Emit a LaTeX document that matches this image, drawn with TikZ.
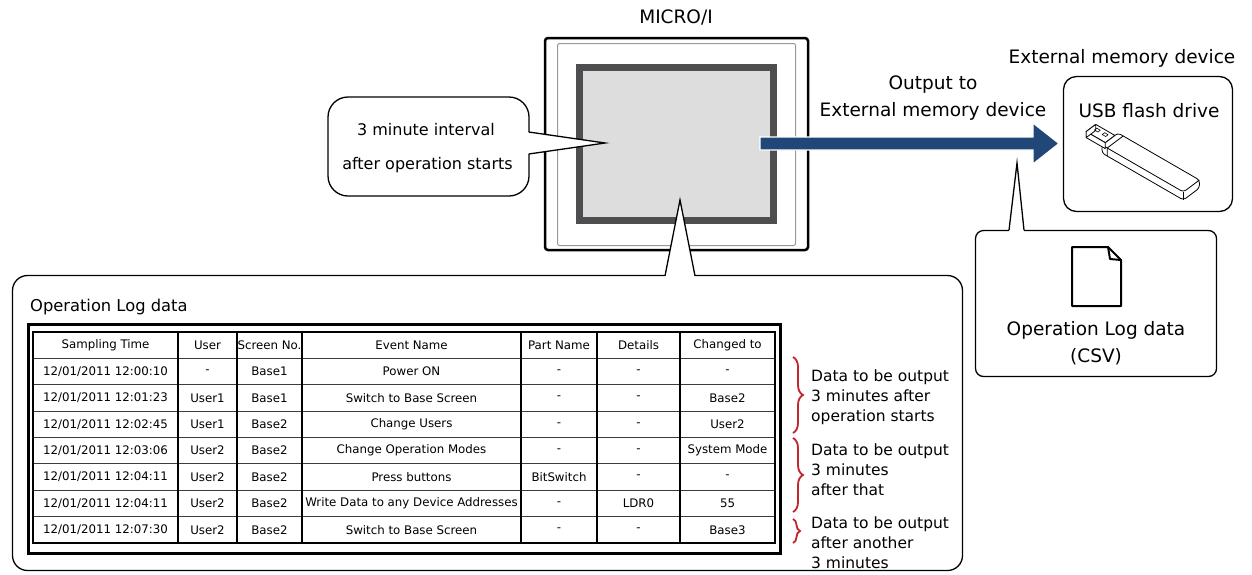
\documentclass[tikz,border=0pt]{standalone}
\usepackage{fontspec}
\setmainfont{DejaVu Sans}
\usetikzlibrary{decorations.pathreplacing,calc}
\definecolor{arrowblue}{RGB}{33,71,121}
\definecolor{screengray}{RGB}{221,221,221}
\definecolor{framegray}{RGB}{78,78,80}
\definecolor{bracered}{RGB}{192,39,45}
\definecolor{gridgray}{RGB}{60,60,60}

% one row of the log table: #1 = row index, #2..#8 = cell texts
\newcommand\logrow[8]{%
  \node[cell] (r#1a) at (105.5,{332+26.375*(#1+0.5)}) {#2};
  \node[cell] (r#1b) at (207.5,{332+26.375*(#1+0.5)}) {#3};
  \node[cell] (r#1c) at (269.5,{332+26.375*(#1+0.5)}) {#4};
  \node[cell] (r#1d) at (411.5,{332+26.375*(#1+0.5)}) {#5};
  \node[cell] (r#1e) at (559,{332+26.375*(#1+0.5)}) {#6};
  \node[cell] (r#1f) at (638.5,{332+26.375*(#1+0.5)}) {#7};
  \node[cell] (r#1g) at (727.5,{332+26.375*(#1+0.5)}) {#8};
}

\begin{document}
\begin{tikzpicture}[x=1pt,y=-1pt,
  lbl/.style={inner sep=0pt, font=\fontsize{18.5}{22}\selectfont},
  note/.style={inner sep=0pt, align=left, anchor=west, font=\fontsize{15.5}{20}\selectfont},
  cell/.style={inner sep=0pt, font=\fontsize{11.8}{14}\selectfont},
  box/.style={draw=black, fill=white, line width=1.3pt, inner sep=0pt},
  pointerfill/.style={fill=white},
  pointerline/.style={draw=black, line width=1.3pt},
  bracemark/.style={draw=bracered, line width=1.8pt, decorate,
    decoration={brace, amplitude=#1}},
  bracemark/.default=10pt]

\useasboundingbox (0,0) rectangle (1252,574);

% ---------- MICRO/I unit ----------
\node[lbl] (microlabel) at (676,17) {MICRO/I};
\node[draw=black, line width=2.5pt, rounded corners=3pt, fill=white,
      minimum width=263pt, minimum height=212pt, inner sep=0pt] (micro) at (676.5,144) {};
\node[draw=gray!80, line width=1pt, rounded corners=2pt,
      minimum width=238pt, minimum height=202pt, inner sep=0pt] (bezel) at (676.5,144.5) {};
\node[draw=framegray, fill=screengray, line width=7pt,
      minimum width=194pt, minimum height=153pt, inner sep=0pt] (screen) at (676.5,144) {};

% ---------- output arrow ----------
\coordinate (arrowtail) at (760,143.5);
\coordinate (arrowtip) at (1059,143.5);
\fill[arrowblue, draw=white, line width=1.2pt]
  ($(arrowtail)+(0,-6.5)$) -- ($(arrowtip)+(-26,-6.5)$) -- ($(arrowtip)+(-26,-20.5)$)
  -- (arrowtip) -- ($(arrowtip)+(-26,20.5)$) -- ($(arrowtip)+(-26,6.5)$)
  -- ($(arrowtail)+(0,6.5)$) -- cycle;
\node[lbl] (outlabel1) at (933,85) {Output to};
\node[lbl] (outlabel2) at (933,111) {External memory device};

% ---------- external memory ----------
\node[lbl] (extlabel) at (1122,58) {External memory device};
\node[box, rounded corners=13pt, minimum width=169pt, minimum height=135pt] (usb) at (1148,144) {};
\node[lbl] (usblabel) at (1149,111) {USB flash drive};

% USB stick drawn in an oblique frame
\begin{scope}[shift={(1118,133)}, x={(0.866pt,-0.5pt)}, y={(-0.8pt,-0.6pt)}, z={(0pt,-1pt)},
              line width=0.8pt, line join=round]
  \filldraw[fill=white, rounded corners=3pt]
    (0,0,0) -- (94,0,0) -- (94,0,8) -- (94,20,8) -- (0,20,8) -- (0,20,0) -- cycle;
  \draw[rounded corners=3pt] (0,20,0) -- (94,20,0) -- (94,0,0);
  \draw (94,20,0) -- (94,20,8);
  \draw (6,0,0) -- (6,20,0) -- (6,20,8);
  \filldraw[fill=white] (-22,4,0) -- (0,4,0) -- (0,16,0) -- (-22,16,0) -- cycle;
  \filldraw[fill=white] (-22,16,0) -- (0,16,0) -- (0,16,6) -- (-22,16,6) -- cycle;
  \filldraw[fill=white] (-22,4,0) -- (-22,16,0) -- (-22,16,6) -- (-22,4,6) -- cycle;
  \draw[line width=0.6pt] (-18,7,0) -- (-14,7,0) -- (-14,10,0) -- (-18,10,0) -- cycle;
  \draw[line width=0.6pt] (-9,7,0) -- (-5,7,0) -- (-5,10,0) -- (-9,10,0) -- cycle;
\end{scope}

% ---------- CSV callout ----------
\node[box, rounded corners=8pt, minimum width=241pt, minimum height=146pt] (csv) at (1096,303.5) {};
\coordinate (csvtip) at (1017,163);
\fill[pointerfill] (1009,232) -- (csvtip) -- (1024,232) -- cycle;
\draw[pointerline] (1009,230.2) -- (csvtip) -- (1024,230.2);
\draw[line width=2pt, line join=round, fill=white]
  (1072,247) -- (1108,247) -- (1121,260) -- (1121,306) -- (1072,306) -- cycle;
\draw[line width=2pt, line join=round] (1108,247) -- (1110,259) -- (1121,260);
\node[lbl] (csvlabel1) at (1096,330) {Operation Log data};
\node[lbl] (csvlabel2) at (1096,357) {(CSV)};

% ---------- interval callout ----------
\node[box, rounded corners=20pt, minimum width=201pt, minimum height=99pt] (interval) at (428.5,146.5) {};
\coordinate (intervaltip) at (605,143);
\fill[pointerfill] (527,132) -- (intervaltip) -- (527,154) -- cycle;
\draw[pointerline] (528.8,132) -- (intervaltip) -- (528.8,154);
\node[inner sep=0pt, font=\fontsize{16}{20}\selectfont] (intervaltext1) at (426,130) {3 minute interval};
\node[inner sep=0pt, font=\fontsize{16}{20}\selectfont] (intervaltext2) at (427.5,165) {after operation starts};

% ---------- log data callout ----------
\node[box, rounded corners=15pt, minimum width=950pt, minimum height=295pt] (log) at (487.5,423) {};
\coordinate (logtip) at (680,200);
\fill[pointerfill] (665,277) -- (logtip) -- (695,277) -- cycle;
\draw[pointerline] (665,275.8) -- (logtip) -- (695,275.8);
\node[inner sep=0pt, anchor=west, font=\fontsize{16.3}{20}\selectfont] (logtitle) at (30,307) {Operation Log data};

% table frame and grid
\draw[line width=3pt] (28.5,324.5) rectangle (780.5,553.5);
\foreach \yy in {358.375,384.75,411.125,437.5,463.875,490.25,516.625}
  \draw[gridgray, line width=1.2pt] (33,\yy) -- (775,\yy);
\foreach \xx in {178,237,302,521,597,680}
  \draw[line width=1.6pt] (\xx,332) -- (\xx,543);
\draw[line width=1.6pt] (33,332) rectangle (775,543);

\logrow{0}{Sampling Time}{User}{Screen No.}{Event Name}{Part Name}{Details}{Changed to}
\logrow{1}{12/01/2011 12:00:10}{-}{Base1}{Power ON}{-}{-}{-}
\logrow{2}{12/01/2011 12:01:23}{User1}{Base1}{Switch to Base Screen}{-}{-}{Base2}
\logrow{3}{12/01/2011 12:02:45}{User1}{Base2}{Change Users}{-}{-}{User2}
\logrow{4}{12/01/2011 12:03:06}{User2}{Base2}{Change Operation Modes}{-}{-}{System Mode}
\logrow{5}{12/01/2011 12:04:11}{User2}{Base2}{Press buttons}{BitSwitch}{-}{-}
\logrow{6}{12/01/2011 12:04:11}{User2}{Base2}{Write Data to any Device Addresses}{-}{LDR0}{55}
\logrow{7}{12/01/2011 12:07:30}{User2}{Base2}{Switch to Base Screen}{-}{-}{Base3}

% output groups
\draw[bracemark] (793,357) -- (793,433);
\draw[bracemark] (793,438) -- (793,512);
\draw[bracemark=7pt] (793,519) -- (793,543);
\node[note] (group1) at (811,397) {Data to be output\\3 minutes after\\operation starts};
\node[note] (group2) at (811,470) {Data to be output\\3 minutes\\after that};
\node[note] (group3) at (811,543) {Data to be output\\after another\\3 minutes};

\end{tikzpicture}
\end{document}
